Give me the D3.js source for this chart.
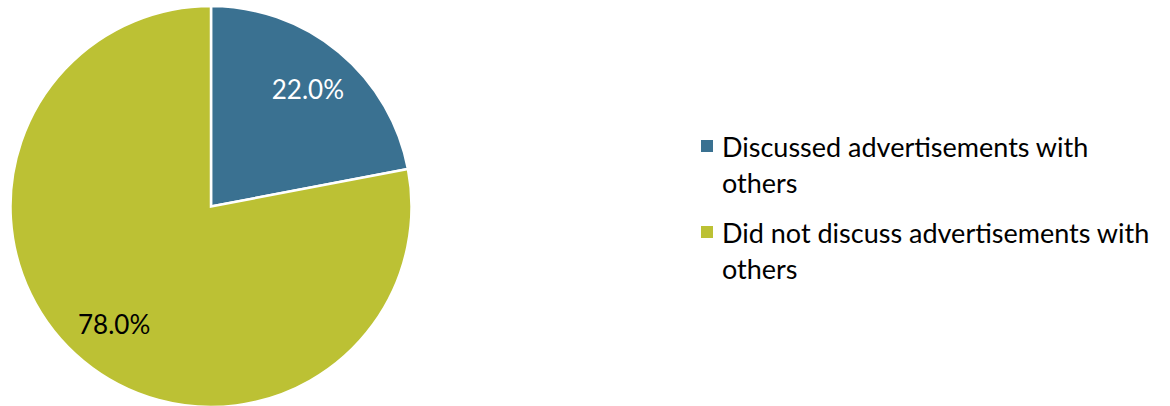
<!DOCTYPE html>
<html>
<head>
<meta charset="utf-8">
<script src="https://cdn.jsdelivr.net/npm/d3@7"></script>
<style>
  html, body { margin: 0; padding: 0; background: #ffffff; }
  svg { display: block; }
  text { font-family: Lato, "Open Sans", sans-serif; }
</style>
</head>
<body>
<svg id="chart" width="1170" height="406"></svg>
<script>
const categories = ["Discussed advertisements with others", "Did not discuss advertisements with others"];
const legendLines = [["Discussed advertisements with", "others"], ["Did not discuss advertisements with", "others"]];
const values = [22.0, 78.0];
const colors = ["#3A7191", "#BCC134"];
const labelColors = ["#ffffff", "#000000"];

const svg = d3.select("#chart");
const cx = 211, cy = 206.5, r = 200.5;

const pie = d3.pie().sort(null).value(d => d)(values);
const arc = d3.arc().innerRadius(0).outerRadius(r);
const labelArc = d3.arc().innerRadius(152).outerRadius(152);

const g = svg.append("g").attr("transform", `translate(${cx},${cy})`);
g.selectAll("path").data(pie).join("path")
  .attr("d", arc)
  .attr("fill", (d, i) => colors[i])
  .attr("stroke", "#ffffff")
  .attr("stroke-width", 2.5)
  .attr("stroke-linejoin", "miter");

g.selectAll("text.lbl").data(pie).join("text")
  .attr("class", "lbl")
  .attr("transform", d => `translate(${labelArc.centroid(d)})`)
  .attr("text-anchor", "middle")
  .attr("dominant-baseline", "central")
  .attr("fill", (d, i) => labelColors[i])
  .style("font-size", "26px")
  .text(d => d3.format(".1f")(d.data) + "%");

const legend = svg.append("g");
const itemY = [146, 232];
legendLines.forEach((lines, i) => {
  const item = legend.append("g").attr("transform", `translate(0,${itemY[i]})`);
  item.append("rect").attr("x", 701).attr("y", -6).attr("width", 12).attr("height", 12).attr("fill", colors[i]);
  const t = item.append("text").attr("x", 722).attr("y", 0)
    .attr("dominant-baseline", "central")
    .style("font-size", "27px").attr("fill", "#000");
  lines.forEach((ln, j) => {
    t.append("tspan").attr("x", 722).attr("dy", j === 0 ? 0 : 36).text(ln);
  });
});
</script>
</body>
</html>
